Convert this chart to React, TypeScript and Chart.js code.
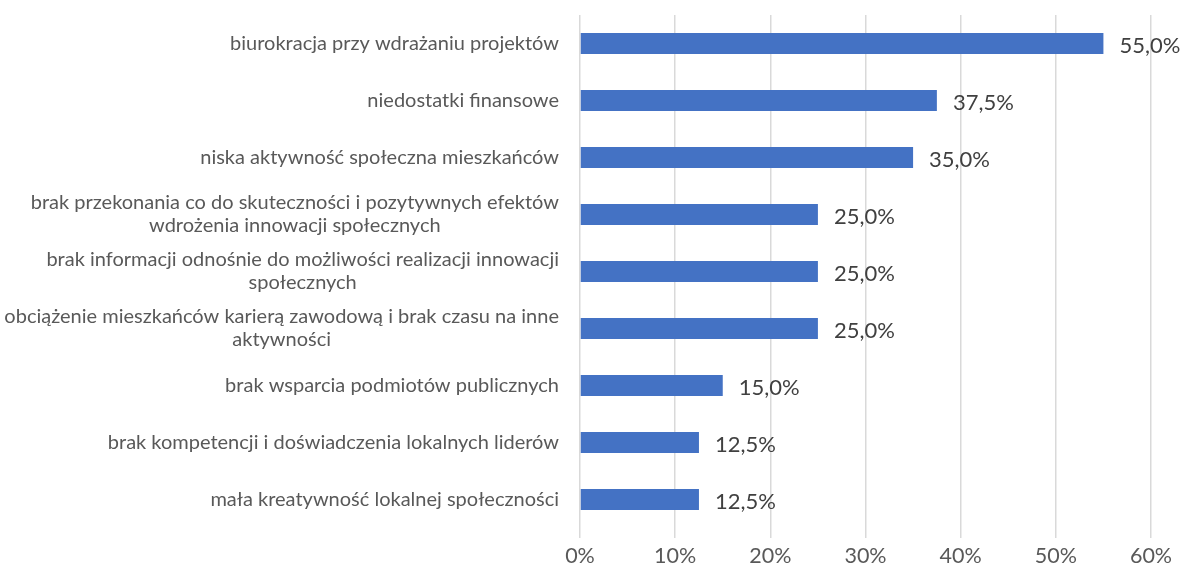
import React, { useEffect, useRef } from "react";
import { Chart, registerables } from "chart.js";

Chart.register(...registerables);

const categories: string[][] = [
  ["biurokracja przy wdrażaniu projektów"],
  ["niedostatki finansowe"],
  ["niska aktywność społeczna mieszkańców"],
  ["brak przekonania co do skuteczności i pozytywnych efektów", "wdrożenia innowacji społecznych"],
  ["brak informacji odnośnie do możliwości realizacji innowacji", "społecznych"],
  ["obciążenie mieszkańców karierą zawodową i brak czasu na inne", "aktywności"],
  ["brak wsparcia podmiotów publicznych"],
  ["brak kompetencji i doświadczenia lokalnych liderów"],
  ["mała kreatywność lokalnej społeczności"],
];
const values: number[] = [55, 37.5, 35, 25, 25, 25, 15, 12.5, 12.5];
const xTicks: number[] = [0, 10, 20, 30, 40, 50, 60];

const FONT = "Lato, 'Open Sans', sans-serif";

const labelPlugin = {
  id: "customLabels",
  afterDraw(chart: any) {
    const ctx = chart.ctx;
    const y = chart.scales.y;
    const x = chart.scales.x;
    ctx.save();
    // category labels
    ctx.font = `20px ${FONT}`;
    ctx.fillStyle = "#595959";
    ctx.textAlign = "center";
    ctx.textBaseline = "middle";
    const rightEdge = chart.chartArea.left - 21;
    const lh = 23;
    categories.forEach((lines, i) => {
      const cy = y.getPixelForValue(i);
      const maxW = Math.max(...lines.map((l) => ctx.measureText(l).width));
      const cx = rightEdge - maxW / 2;
      const startY = cy - ((lines.length - 1) * lh) / 2;
      lines.forEach((l, j) => ctx.fillText(l, cx, startY + j * lh));
    });
    // value labels
    ctx.font = `22px ${FONT}`;
    ctx.fillStyle = "#404040";
    ctx.textAlign = "left";
    values.forEach((v, i) => {
      const px = x.getPixelForValue(v) + 16;
      const py = y.getPixelForValue(i) + 2;
      ctx.fillText(v.toFixed(1).replace(".", ",") + "%", px, py);
    });
    ctx.restore();
  },
};

export default function App() {
  const ref = useRef<HTMLCanvasElement>(null);
  useEffect(() => {
    if (!ref.current) return;
    const chart = new Chart(ref.current, {
      type: "bar",
      data: {
        labels: categories.map((c) => c.join(" ")),
        datasets: [
          {
            data: values,
            backgroundColor: "#4472C4",
            barPercentage: 0.62,
            categoryPercentage: 0.6,
          },
        ],
      },
      options: {
        indexAxis: "y",
        animation: false,
        responsive: true,
        maintainAspectRatio: false,
        layout: { padding: { top: 15, right: 31, left: 0, bottom: 0 } },
        plugins: { legend: { display: false }, tooltip: { enabled: false } },
        scales: {
          x: {
            min: 0,
            max: 60,
            afterBuildTicks: (s: any) => {
              s.ticks = xTicks.map((v) => ({ value: v }));
            },
            afterFit: (s: any) => {
              s.height = 40;
            },
            grid: {
              color: "#D9D9D9",
              lineWidth: 1.5,
              drawTicks: true,
              tickLength: 10,
              tickColor: "#D9D9D9",
            },
            border: { display: false },
            ticks: {
              padding: 5,
              color: "#595959",
              font: { family: FONT, size: 21.5 },
              callback: (v: any) => v + "%",
            },
          },
          y: {
            afterFit: (s: any) => {
              s.width = 580;
            },
            grid: { display: false },
            border: { display: false },
            ticks: { display: false },
          },
        },
      },
      plugins: [labelPlugin],
    });
    return () => chart.destroy();
  }, []);
  return (
    <div style={{ position: "absolute", left: 0, top: 0, width: 1182, height: 568 }}>
      <canvas ref={ref} />
    </div>
  );
}
